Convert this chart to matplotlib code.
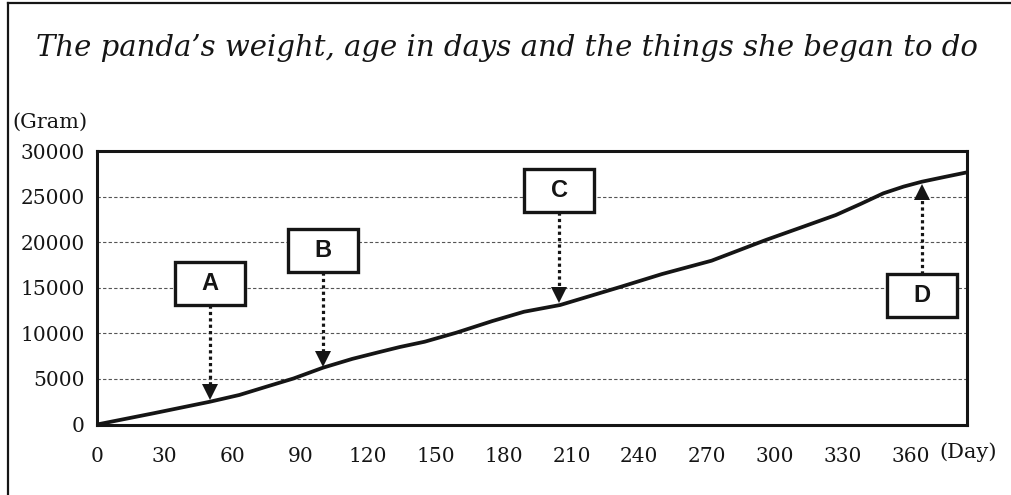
import matplotlib
matplotlib.use("Agg")
import matplotlib.pyplot as plt
from matplotlib.patches import Rectangle
from matplotlib.lines import Line2D

plt.rcParams['font.family'] = ['DejaVu Serif']

# weight curve
days = [0, 25, 50, 63, 75, 87, 100, 113, 125, 134, 145, 159, 175, 189, 205,
        232, 250, 272, 296, 312, 327, 338, 348, 357, 365, 375, 385]
weight = [0, 1230, 2500, 3240, 4150, 5050, 6230, 7200, 7950, 8500, 9080,
          10070, 11350, 12370, 13110, 15120, 16500, 17970, 20240, 21650,
          22980, 24200, 25360, 26100, 26630, 27150, 27660]

x_ticks = [0, 30, 60, 90, 120, 150, 180, 210, 240, 270, 300, 330, 360]
y_ticks = [0, 5000, 10000, 15000, 20000, 25000, 30000]

# milestone markers: label, day, box centre weight, arrow tip weight
mark_labels = ['A', 'B', 'C', 'D']
mark_days = [50, 100, 204.5, 365]
mark_box_y = [15470, 19090, 25720, 14150]
mark_tip_y = [2900, 6420, 13470, 26170]

fig = plt.figure(figsize=(10.11, 4.95), dpi=100)
ax = fig.add_axes([0.0959, 0.1424, 0.8605, 0.5525])

ax.set_xlim(0, 385)
ax.set_ylim(0, 30000)

for g in y_ticks[1:-1]:
    ax.axhline(g, color='#555555', lw=0.8, ls=(0, (3, 2)), zorder=1)

ax.plot(days, weight, color='#151515', lw=2.7, solid_capstyle='round',
        solid_joinstyle='round', zorder=3)

box_w = 31.0    # days
box_h = 4720.0  # grams
tri_h = 1430.0
for lab, d, by, ty in zip(mark_labels, mark_days, mark_box_y, mark_tip_y):
    if ty < by:
        start = by - box_h / 2
        base = ty + tri_h
        mk = 'v'
    else:
        start = by + box_h / 2
        base = ty - tri_h
        mk = '^'
    ax.plot([d, d], [start, base], color='#151515', lw=2.3,
            ls=(0, (1, 1)), zorder=4, clip_on=False)
    ax.plot([d], [(ty + base) / 2], marker=mk, ms=12, color='#151515',
            mew=0, zorder=5, clip_on=False)
    ax.add_patch(Rectangle((d - box_w / 2, by - box_h / 2), box_w, box_h,
                           facecolor='white', edgecolor='#151515', lw=2.4,
                           zorder=6, clip_on=False))
    ax.text(d, by, lab, ha='center', va='center', fontsize=17,
            fontweight='bold', family='Liberation Sans', color='#151515',
            zorder=7)

ax.set_xticks(x_ticks)
ax.set_xticklabels([str(t) for t in x_ticks])
ax.set_yticks(y_ticks)
ax.set_yticklabels([str(t) for t in y_ticks])
ax.tick_params(axis='both', length=0, labelsize=14.5, colors='#151515')
ax.tick_params(axis='x', pad=16)
ax.tick_params(axis='y', pad=9)
for s in ax.spines.values():
    s.set_linewidth(2.2)
    s.set_color('#151515')

fig.text(0.5015, 0.903,
         'The panda\u2019s weight, age in days and the things she began to do',
         ha='center', va='center', fontsize=21, style='italic',
         color='#151515')
fig.text(12 / 1011, 1 - 122 / 495, '(Gram)', ha='left', va='center',
         fontsize=15, color='#151515')
fig.text(939 / 1011, 1 - 452 / 495, '(Day)', ha='left', va='center',
         fontsize=15, color='#151515')

# outer frame, only left and top edges are inside the picture
fig.add_artist(Line2D([8 / 1011, 8 / 1011], [0, 1 - 3 / 495],
                      transform=fig.transFigure, color='#151515', lw=1.6))
fig.add_artist(Line2D([8 / 1011, 1], [1 - 3 / 495, 1 - 3 / 495],
                      transform=fig.transFigure, color='#151515', lw=1.6))

fig.savefig('out.png', dpi=100)
